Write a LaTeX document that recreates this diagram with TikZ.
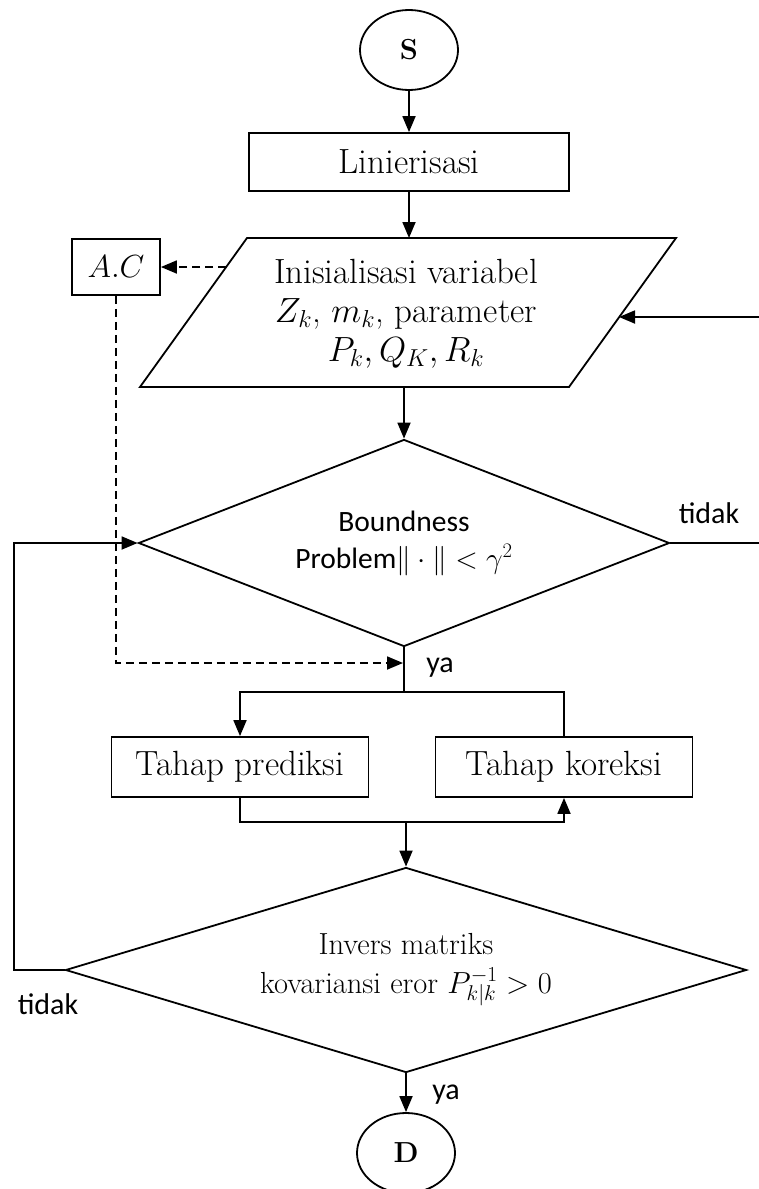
\RequirePackage{fix-cm}
\documentclass[tikz,border=0pt]{standalone}
\usepackage{fontspec}
\setsansfont{Carlito}
\usetikzlibrary{arrows.meta,shapes.geometric}
\begin{document}
\begin{tikzpicture}[x=1pt,y=-1pt,
  line width=1.8pt,
  arr/.style={-{Triangle[length=16pt,width=13pt]}},
  dsh/.style={dash pattern=on 8pt off 5pt},
  term/.style={draw,ellipse,minimum width=98pt,minimum height=80pt,inner sep=0pt,
    font=\fontsize{29}{34}\selectfont\bfseries},
  procbox/.style={draw,rectangle,inner sep=0pt,font=\fontsize{35}{40}\selectfont},
  decide/.style={draw,diamond,inner sep=0pt,align=center},
  lbl/.style={font=\sffamily\fontsize{30}{36}\selectfont,inner sep=0pt},
]
\useasboundingbox (0,0) rectangle (758,1189);

% terminals and process boxes
\node[term] (s) at (409,50) {S};
\node[procbox,minimum width=320pt,minimum height=58pt] (lin) at (409,162) {Linierisasi};
\node[procbox,minimum width=88pt,minimum height=56pt,font=\fontsize{32}{38}\selectfont] (ac) at (116,267) {$A.C$};

% input parallelogram
\coordinate (p1) at (140,387);
\coordinate (p2) at (569,387);
\coordinate (p3) at (676,238);
\coordinate (p4) at (247,238);
\draw (p1) -- (p2) -- (p3) -- (p4) -- cycle;
\coordinate (parN) at (409,238);
\coordinate (parS) at (404,387);
\coordinate (parW) at (226,267);
\coordinate (parE) at (619,317);
\node[align=center,inner sep=0pt,font=\fontsize{35}{39}\selectfont] (par) at (406,314)
  {Inisialisasi variabel\\ $Z_k$, $m_k$, parameter\\ $P_k, Q_K, R_k$};

% decisions
\node[decide,aspect=2.57,minimum width=531pt,minimum height=207pt,
      font=\sffamily\fontsize{29.5}{37}\selectfont] (d1) at (404,543)
  {Boundness\\ Problem$\|\cdot\|<\gamma^2$};
\node[procbox,minimum width=257pt,minimum height=60pt] (pred) at (240,767) {Tahap prediksi};
\node[procbox,minimum width=257pt,minimum height=60pt] (kor) at (564,767) {Tahap koreksi};
\node[decide,aspect=3.32,minimum width=681pt,minimum height=205pt,
      font=\fontsize{30.5}{39}\selectfont] (d2) at (406,970)
  {Invers matriks\\ kovariansi eror $P^{-1}_{k|k} > 0$};
\node[term] (d) at (406,1153) {D};

% helper coordinates for the routing
\coordinate (split) at (404,692);
\coordinate (dashEnd) at (403,663);
\coordinate (merge) at (406,822);
\coordinate (lx) at (14,0);
\coordinate (rx) at (761,0);

% connectors
\draw[arr] (s.south) -- (lin.north);
\draw[arr] (lin.south) -- (parN);
\draw[arr,dsh] (parW) -- (ac.east);
\draw[arr,dsh] (ac.south) |- (dashEnd);
\draw[arr] (parS) -- (d1.north);
\draw[arr] (d1.south) -- (split) -| (pred.north);
\draw (split) -| (kor.north);
\draw[arr] (pred.south) |- (merge) -| (kor.south);
\draw[arr] (merge) -- (d2.north);
\draw[arr] (d2.south) -- (d.north);
\draw[arr] (d2.west) -- (d2.west -| lx) |- (d1.west);
\draw[arr] (d1.east) -- (d1.east -| rx) |- (parE);

% branch labels
\node[lbl] (tidak1) at (709,513) {tidak};
\node[lbl] (ya1) at (440,668) {ya};
\node[lbl] (tidak2) at (48,1004) {tidak};
\node[lbl] (ya2) at (446,1095) {ya};
\end{tikzpicture}
\end{document}
